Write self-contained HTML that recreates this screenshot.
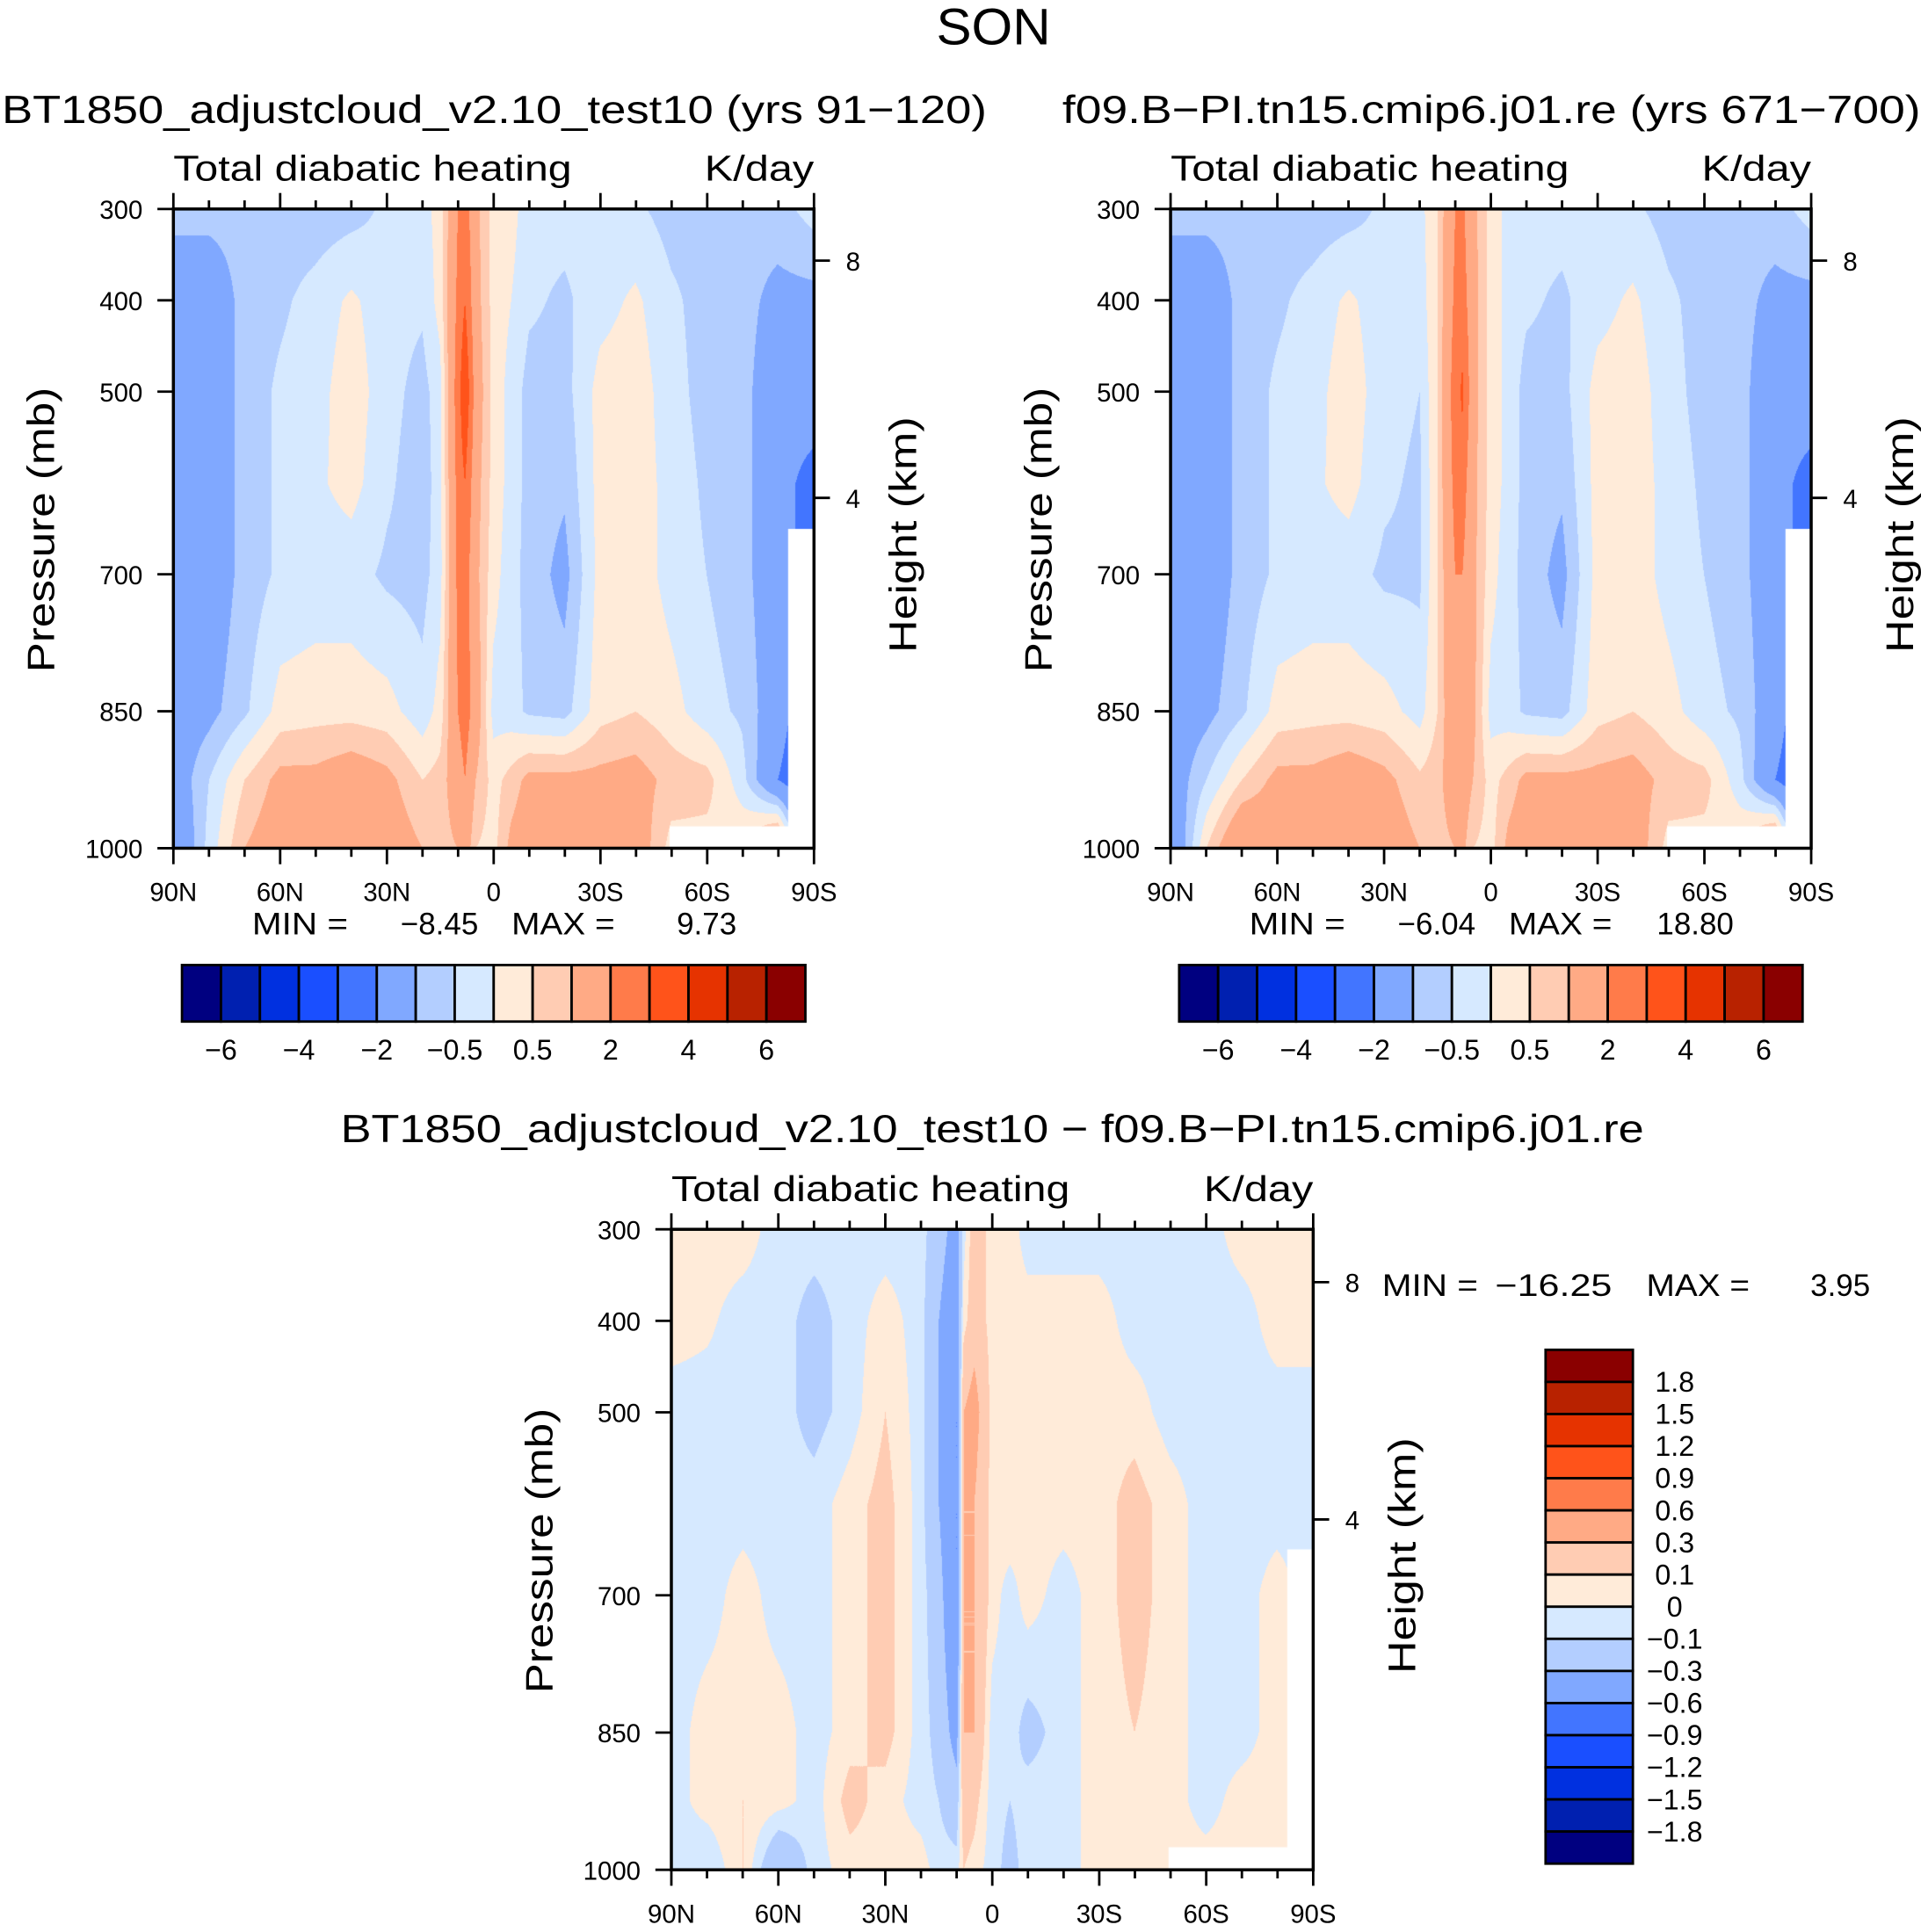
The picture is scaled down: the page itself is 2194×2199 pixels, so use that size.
<!DOCTYPE html>
<html><head><meta charset="utf-8"><style>
html,body{margin:0;padding:0;background:#fff;}
#root{position:relative;width:2194px;height:2199px;overflow:hidden;background:#fff;}
canvas{position:absolute;}
svg{position:absolute;left:0;top:0;}
text{font-family:"Liberation Sans",sans-serif;fill:#000;}
</style></head><body>
<div id="root">
<canvas id="c1"></canvas>
<canvas id="c2"></canvas>
<canvas id="c3"></canvas>
<svg id="ov" width="2194" height="2199" viewBox="0 0 1568 1571.6"></svg>
</div>
<script>
// ---- data ----
const lats = [90,80,70,60,50,40,30,20,15,10,8,5,0,-5,-10,-20,-30,-40,-50,-60,-70,-80,-90];
const levels = [300,400,500,600,700,850,925,1000];
const colors = ['#000080','#0020b0','#0030e0','#1a4fff','#4275ff','#80a8ff','#b3ceff','#d6e9ff','#ffebd9','#ffccb3','#ffaa85','#ff7b4a','#ff531a','#e63300','#b82200','#8a0000'];
const boundsTop = [-6,-5,-4,-3,-2,-1,-0.5,0,0.5,1,2,3,4,5,6];
const boundsDiff = [-1.8,-1.5,-1.2,-0.9,-0.6,-0.3,-0.1,0,0.1,0.3,0.6,0.9,1.2,1.5,1.8];
const cbLabelsTop = ['-6','-4','-2','-0.5','0.5','2','4','6'];
const cbLabelsDiff = ['1.8','1.5','1.2','0.9','0.6','0.3','0.1','0','-0.1','-0.3','-0.6','-0.9','-1.2','-1.5','-1.8'];
const xTickLabels = ['90N','60N','30N','0','30S','60S','90S'];
const yTickLabels = [300,400,500,700,850,1000];
const field1 = [
 [-0.8,-0.8,-0.8,-0.8,-0.8,-0.7,-0.4,-0.2,0.2,2,2.5,1.2,0.3,0.2,-0.3,-0.3,-0.3,-0.4,-0.7,-0.7,-0.8,-0.7,-0.3],
 [-1.5,-1.5,-0.8,-0.6,-0.3,0.1,-0.3,-0.4,0.2,2.2,3,1.3,0.3,0,-0.4,-0.6,-0.2,0.1,-0.4,-0.7,-0.8,-1.2,-1.2],
 [-1.5,-1.5,-0.8,-0.4,-0.2,0.3,-0.3,-0.7,-0.2,2.5,4,1.5,0.3,-0.2,-0.7,-0.7,0.2,0.3,-0.3,-0.7,-0.8,-1.5,-1.2],
 [-1.5,-1.5,-0.8,-0.4,-0.1,0.2,-0.4,-0.8,-0.2,2.3,3,1.3,0.3,-0.2,-0.7,-0.9,0.2,0.3,-0.2,-0.6,-0.8,-1.5,-2.5],
 [-1.5,-1.5,-0.8,-0.4,-0.3,-0.3,-0.6,-0.7,-0.2,2.2,2.5,1.2,0.2,-0.3,-0.7,-1.2,0.2,0.3,-0.2,-0.5,-0.8,-1.5,-2.5],
 [-1.5,-1.2,-0.6,0.2,0.3,0.3,0.2,-0.3,0.2,2,2.5,1.5,-0.2,-0.3,-0.6,-0.7,0.3,0.5,0.2,-0.3,-0.6,-1.5,-3],
 [-1.5,-0.5,0.5,1.2,1.2,1.5,1.2,0.5,0.7,1.5,2,1,0.3,0.7,1.2,1.2,1.2,1.3,0.8,0.7,-0.3,-2,-3],
 [-2,-0.3,1,1.5,1.5,1.5,1.5,1,0.8,1,1.5,0.5,0.3,1.2,1.5,1.5,1.5,1.5,0.3,0.3,0.5,2,-3]];
const field2 = [
 [-0.8,-0.8,-0.8,-0.8,-0.8,-0.7,-0.4,-0.2,0.5,2,2.2,1.2,0.3,-0.2,-0.3,-0.3,-0.3,-0.4,-0.7,-0.7,-0.8,-0.7,-0.3],
 [-1.5,-1.5,-0.8,-0.6,-0.3,0.1,-0.3,-0.3,0.5,2.2,2.5,1.3,0.3,-0.2,-0.4,-0.6,-0.2,0.1,-0.4,-0.7,-0.8,-1.2,-1.2],
 [-1.5,-1.5,-0.8,-0.4,-0.2,0.3,-0.3,-0.5,0.5,2.5,3.2,1.3,0.3,-0.2,-0.7,-0.7,0.2,0.3,-0.3,-0.7,-0.8,-1.5,-1.2],
 [-1.5,-1.5,-0.8,-0.4,-0.1,0.2,-0.4,-0.6,0.5,2.3,2.5,1.2,0.3,-0.2,-0.7,-0.9,0.2,0.3,-0.2,-0.6,-0.8,-1.5,-2.5],
 [-1.5,-1.5,-0.8,-0.4,-0.3,-0.3,-0.6,-0.6,0.5,2,2,1.2,0.2,-0.3,-0.7,-1.2,0.2,0.3,-0.2,-0.5,-0.8,-1.5,-2.5],
 [-1.5,-1.2,-0.6,0.2,0.3,0.3,0.2,-0.2,0.5,1.8,1.8,1.2,-0.2,-0.3,-0.6,-0.7,0.3,0.5,0.2,-0.3,-0.6,-1.5,-3],
 [-1.5,-0.5,0.5,1.2,1.2,1.5,1.2,0.6,0.8,1.5,1.5,1,0.3,0.7,1.2,1.2,1.2,1.3,0.8,0.7,-0.3,-2,-3],
 [-2,0.5,2,1.5,1.5,1.5,1.5,1,0.8,1,1.2,0.5,0.3,1.2,1.5,1.5,1.5,1.5,0.3,0.3,0.5,2,-3]];
const fieldDiff = [
 [0.05,0.05,0.05,-0.05,-0.05,-0.05,-0.05,-0.05,-0.2,-0.4,-0.05,0.2,0.05,0.05,-0.05,-0.05,-0.05,-0.05,-0.05,-0.05,0.05,0.05,0.05],
 [0.05,0.02,-0.05,-0.05,-0.15,-0.05,0.05,-0.05,-0.3,-0.5,0.05,0.2,0.05,0.05,0.05,0.05,0.05,-0.05,-0.05,-0.05,-0.05,0.05,0.05],
 [-0.05,-0.05,-0.05,-0.05,-0.15,-0.05,0.1,-0.05,-0.3,-0.6,0.3,0.4,0.05,0.1,0.05,0.05,0.05,0.05,-0.05,-0.05,-0.05,-0.05,-0.05],
 [-0.05,-0.05,-0.05,-0.05,-0.05,0.05,0.15,-0.05,-0.3,-0.6,0.3,0.3,0.05,0.1,0.05,0.05,0.05,0.15,0.05,-0.05,-0.05,-0.05,-0.05],
 [-0.05,-0.05,0.05,-0.05,-0.05,0.05,0.15,-0.05,-0.2,-0.6,0.3,0.3,0.05,-0.05,0.05,-0.05,0.05,0.15,0.05,-0.05,-0.05,0.05,-0.05],
 [-0.05,0.05,0.05,0.05,-0.05,0.05,0.15,-0.05,-0.15,-0.4,0.3,0.3,-0.05,-0.05,-0.15,-0.05,0.05,0.1,0.05,-0.05,-0.05,0.05,-0.1],
 [-0.05,0.05,0.1,0.05,-0.05,0.15,0.05,-0.05,-0.1,-0.2,0.2,0.15,-0.05,-0.1,-0.05,-0.05,0.05,0.1,0.05,-0.05,0.05,0.05,0.05],
 [-0.05,-0.1,0.1,-0.3,-0.05,0.05,0.05,0.05,-0.05,-0.05,0.1,0.05,-0.05,-0.15,-0.05,-0.05,0.05,0.05,0.05,0.05,0.05,0.05,0.05]];

// ---- geometry (display units; scale to pixels) ----
const S = 2194/1568;
const NS='http://www.w3.org/2000/svg';
const ov=document.getElementById('ov');
function el(tag,attrs,parent){const e=document.createElementNS(NS,tag);for(const k in attrs)e.setAttribute(k,attrs[k]);(parent||ov).appendChild(e);return e;}
function txt(x,y,s,size,anchor,parent,extra){const t=el('text',Object.assign({x:x,y:y,'font-size':size,'text-anchor':anchor||'start'},extra||{}),parent);t.textContent=s;return t;}
function fit(len){return {textLength:len,lengthAdjust:'spacingAndGlyphs'};}

function interp(field,lat,p){
  let i=0;while(i<lats.length-2 && lat<lats[i+1])i++;
  const fx=(lats[i]-lat)/(lats[i]-lats[i+1]);
  let j=0;while(j<levels.length-2 && p>levels[j+1])j++;
  const fy=(p-levels[j])/(levels[j+1]-levels[j]);
  const a=field[j][i]*(1-fx)+field[j][i+1]*fx;
  const b=field[j+1][i]*(1-fx)+field[j+1][i+1]*fx;
  return a*(1-fy)+b*fy;
}
function colorIdx(v,bounds){let k=0;while(k<bounds.length&&v>=bounds[k])k++;return k;}
function hex(c){return [parseInt(c.substr(1,2),16),parseInt(c.substr(3,2),16),parseInt(c.substr(5,2),16)];}
const rgb=colors.map(hex);

function drawField(id,field,bounds,px,py,pw,ph){
  const c=document.getElementById(id);
  const L=Math.round(px*S),T=Math.round(py*S),W=Math.round(pw*S),H=Math.round(ph*S);
  c.style.left=L+'px';c.style.top=T+'px';c.width=W;c.height=H;
  const ctx=c.getContext('2d');const img=ctx.createImageData(W,H);
  for(let y=0;y<H;y++){const p=300+700*y/(H-1);
    for(let x=0;x<W;x++){const lat=90-180*x/(W-1);
      const v=interp(field,lat,p);const k=colorIdx(v,bounds);const o=(y*W+x)*4;
      img.data[o]=rgb[k][0];img.data[o+1]=rgb[k][1];img.data[o+2]=rgb[k][2];img.data[o+3]=255;}}
  ctx.putImageData(img,0,0);
  ctx.fillStyle='#fff';
  const sx=W/pw,sy=H/ph;
  ctx.fillRect((pw*0.775)*sx,(ph*0.965)*sy,W,H);
  ctx.fillRect((pw*0.96)*sx,(ph*0.5)*sy,W,H);
}

function drawAxes(px,py,pw,ph,name,hTicks){
  const g=el('g',{});
  el('rect',{x:px,y:py,width:pw,height:ph,fill:'none',stroke:'#000','stroke-width':2.5},g);
  for(let d=0;d<=18;d++){const x=px+pw*d/18;const major=d%3==0;const len=major?13:7;
    el('line',{x1:x,y1:py+ph,x2:x,y2:py+ph+len,stroke:'#000','stroke-width':2},g);
    el('line',{x1:x,y1:py,x2:x,y2:py-len,stroke:'#000','stroke-width':2},g);}
  xTickLabels.forEach((l,i)=>{txt(px+pw*i/6,py+ph+43,l,21,'middle',g);});
  yTickLabels.forEach(p=>{const y=py+ph*(p-300)/700;
    el('line',{x1:px,y1:y,x2:px-13,y2:y,stroke:'#000','stroke-width':2},g);
    txt(px-25,y+8,String(p),21,'end',g);});
  hTicks.forEach(h=>{el('line',{x1:px+pw,y1:py+h[1],x2:px+pw+13,y2:py+h[1],stroke:'#000','stroke-width':2},g);
    txt(px+pw+26,py+h[1]+8,h[0],21,'start',g);});
  txt(px,py-23,'Total diabatic heating',29,'start',g,fit(324));
  txt(px+pw,py-23,'K/day',29,'end',g,fit(89));
  const t1=txt(0,0,'Pressure (mb)',31,'middle',g,fit(232));t1.setAttribute('transform',`translate(${px-97},${py+ph/2+1}) rotate(-90)`);
  const t2=txt(0,0,'Height (km)',31,'middle',g,fit(192));t2.setAttribute('transform',`translate(${px+pw+83},${py+ph*0.5+5}) rotate(-90)`);
}

const panels=[{x:141,id:'c1',f:field1,title:'BT1850_adjustcloud_v2.10_test10 (yrs 91\u2212120)',mn:'\u22128.45',mx:'9.73'},
              {x:952,id:'c2',f:field2,title:'f09.B\u2212PI.tn15.cmip6.j01.re (yrs 671\u2212700)',mn:'\u22126.04',mx:'18.80'}];
txt(808,36,'SON',42,'middle',null,Object.assign({},fit(93)));
panels.forEach((P,pi)=>{
  drawField(P.id,P.f,boundsTop,P.x,170,521,520);
  drawAxes(P.x,170,521,520,'panel'+(pi+1)+'-axes',[['8',42],['4',235]]);
  const tl = pi==0?801:698, tc = pi==0?402:1213;
  txt(tc,100,P.title,32,'middle',null,Object.assign({},fit(tl)));
  txt(P.x+64,760,'MIN =',25,'start',null,Object.assign({},fit(78)));
  txt(P.x+248,760,P.mn,25,'end',null);
  txt(P.x+275,760,'MAX =',25,'start',null,Object.assign({},fit(84)));
  txt(P.x+458,760,P.mx,25,'end',null);
  const cb=el('g',{});
  const cx=P.x+7,bw=507/16;
  colors.forEach((c,k)=>{el('rect',{x:cx+k*bw,y:785,width:bw,height:46,fill:c,stroke:'#000','stroke-width':2},cb);});
  cbLabelsTop.forEach((l,i)=>{txt(cx+bw*(2*i+1),862,l.replace('-','\u2212'),23,'middle',cb);});
});
drawField('c3',fieldDiff,boundsDiff,546,1000,522,521);
drawAxes(546,1000,522,521,'difference-axes',[['8',43],['4',236]]);
txt(807,929,'BT1850_adjustcloud_v2.10_test10 \u2212 f09.B\u2212PI.tn15.cmip6.j01.re',32,'middle',null,Object.assign({},fit(1060)));
txt(1124,1054,'MIN =',25,'start',null,Object.assign({},fit(78)));
txt(1311,1054,'\u221216.25',25,'end',null,fit(95));
txt(1339,1054,'MAX =',25,'start',null,Object.assign({},fit(84)));
txt(1521,1054,'3.95',25,'end',null);
const cb3=el('g',{});
const bh=418/16;
colors.slice().reverse().forEach((c,k)=>{el('rect',{x:1257,y:1098+k*bh,width:71,height:bh,fill:c,stroke:'#000','stroke-width':2},cb3);});
cbLabelsDiff.forEach((l,i)=>{txt(1362,1098+bh*(i+1)+8,l.replace('-','\u2212'),23,'middle',cb3);});
</script>
</body></html>
